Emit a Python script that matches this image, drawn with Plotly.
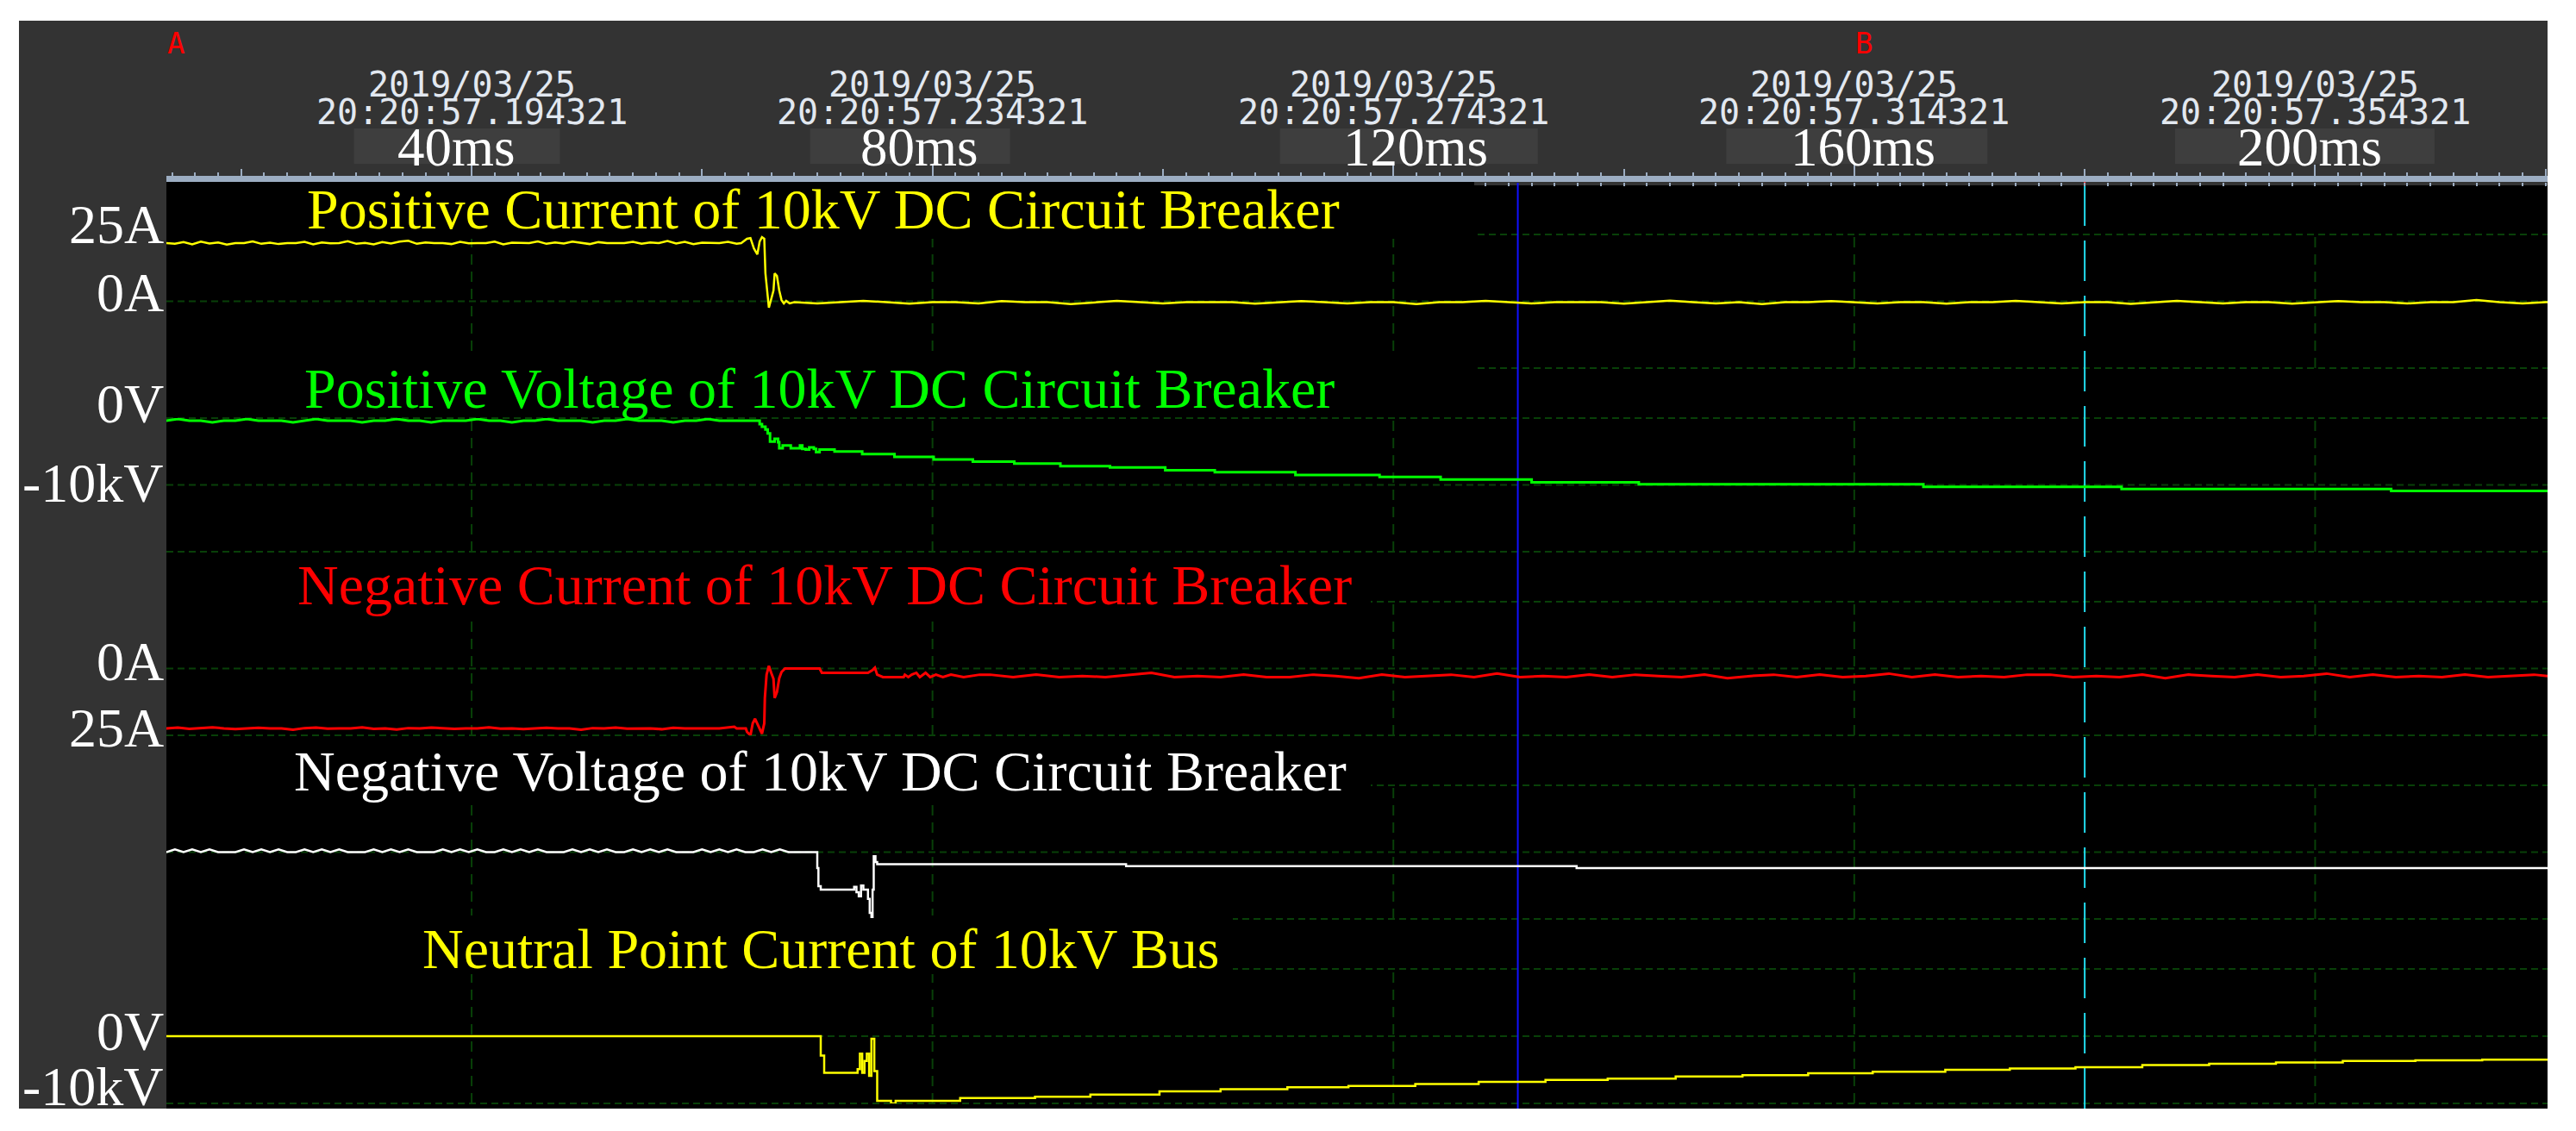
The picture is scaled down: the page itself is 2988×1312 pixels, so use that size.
import numpy as np
import plotly.graph_objects as go

# ---------------- time ruler (ms) ----------------
ruler_ticks = [40, 80, 120, 160, 200]
ruler_labels = ["40ms", "80ms", "120ms", "160ms", "200ms"]
ruler_dates = ["2019/03/25", "2019/03/25", "2019/03/25", "2019/03/25", "2019/03/25"]
ruler_times = ["20:20:57.194321", "20:20:57.234321", "20:20:57.274321",
               "20:20:57.314321", "20:20:57.354321"]
t_view = [13.51, 220.17]
cursor_blue = 130.8
cursor_cyan = 180.0
marker_a = 14.3
marker_b = 160.8

# ---------------- channel 1: positive current (A) ----------------
ch1_pre_t0, ch1_pre_dt = 13.5, 0.75
ch1_pre = [24.3, 24.0, 24.7, 23.8, 24.9, 24.1, 24.6, 23.7, 24.3, 24.3,
           25.0, 24.0, 24.5, 23.9, 24.3, 24.3, 24.8, 23.8, 24.6, 24.2,
           24.3, 25.1, 24.0, 24.4, 23.8, 24.7, 24.1, 24.9, 25.3, 24.0,
           24.6, 24.3, 24.3, 23.9, 24.8, 24.2, 24.3, 24.3, 24.9, 23.8,
           24.5, 24.3, 24.3, 25.0, 24.0, 24.6, 24.1, 24.9, 24.4, 23.9,
           24.7, 24.3, 24.3, 24.3, 24.8, 24.0, 24.6, 24.3, 25.2, 24.1,
           24.8, 23.9, 24.5, 24.3, 24.3, 24.8, 24.0, 25.4]
ch1_evt_t = [63.4, 63.9, 64.2, 64.5, 64.8, 65.0, 65.2, 65.4, 65.5, 65.7,
             65.8, 66.0, 66.2, 66.3, 66.5, 66.7, 66.9, 67.1, 67.3, 67.6]
ch1_evt_v = [24.3, 26.1, 26.4, 22.1, 19.6, 25.0, 26.8, 26.1, 11.7, 0.5,
             -2.7, 0.9, 4.5, 11.7, 10.6, 4.5, 0.5, -0.9, 0.2, -0.9]
ch1_post_t0, ch1_post_dt = 68.0, 2.0
ch1_post = [-0.4, -0.9, -0.4, 0.2, -0.4, -1.0, -0.4, -0.4, -0.9, 0.1,
            -0.4, -0.4, -1.2, -0.4, 0.2, -0.4, -0.9, -0.4, -0.4, -0.4,
            -1.0, -0.4, 0.1, -0.4, -0.9, -0.4, -0.4, -1.2, -0.4, -0.4,
            0.2, -0.4, -0.9, -0.4, -0.4, -0.4, -1.0, -0.4, 0.3, -0.4,
            -0.9, -0.4, -1.2, -0.4, -0.4, 0.1, -0.4, -0.9, -0.4, -0.4,
            -1.0, -0.4, -0.4, 0.2, -0.4, -0.9, -0.4, -0.4, -1.1, -0.4,
            0.2, -0.4, -0.9, -0.4, -0.4, -1.0, -0.4, 0.1, -0.4, -0.4,
            -0.9, -0.4, -0.4, 0.5, -0.4, -0.9, -0.4, -0.4]

# ---------------- channel 2: positive voltage (kV) ----------------
ch2_pre_t0, ch2_pre_dt = 13.5, 1.0
ch2_pre = [-0.38, -0.13, -0.38, -0.38, -0.64, -0.38, -0.38, -0.13, -0.38, -0.38,
           -0.38, -0.64, -0.38, -0.13, -0.38, -0.38, -0.38, -0.64, -0.38, -0.38,
           -0.13, -0.38, -0.38, -0.64, -0.38, -0.38, -0.38, -0.13, -0.38, -0.38,
           -0.64, -0.38, -0.38, -0.13, -0.38, -0.38, -0.38, -0.64, -0.38, -0.38,
           -0.13, -0.38, -0.38, -0.38, -0.64, -0.38, -0.38, -0.13, -0.38, -0.38,
           -0.38, -0.38]
ch2_step_t = [64.8, 65.0, 65.2, 65.5, 65.7, 65.9, 66.3, 66.6, 66.7, 67.0,
              67.7, 68.5, 68.7, 69.0, 69.3, 69.7, 69.9, 70.2, 71.5, 73.9,
              76.7, 80.1, 83.5, 87.1, 91.1, 95.4, 100.2, 104.5, 111.5, 118.8,
              124.1, 132.0, 141.3, 166.0, 183.2, 206.6, 220.2]
ch2_step_v = [-0.4, -0.9, -1.3, -1.7, -2.3, -3.5, -3.1, -3.6, -4.5, -4.1,
              -4.5, -4.1, -4.6, -4.7, -4.4, -4.6, -5.1, -4.7, -5.0, -5.4,
              -5.8, -6.2, -6.5, -6.8, -7.2, -7.4, -7.8, -8.1, -8.5, -8.8,
              -9.2, -9.6, -9.9, -10.3, -10.6, -10.9, -10.9]

# ---------------- channel 3: negative current (A) ----------------
ch3_pre_t0, ch3_pre_dt = 13.5, 1.0
ch3_pre = [-22.4, -22.1, -22.6, -22.4, -22.0, -22.4, -22.7, -22.4, -22.2, -22.4,
           -22.4, -22.9, -22.3, -22.1, -22.5, -22.4, -22.4, -22.0, -22.6, -22.4,
           -22.8, -22.3, -22.4, -22.1, -22.4, -22.6, -22.4, -22.4, -22.0, -22.5,
           -22.4, -22.7, -22.4, -22.2, -22.4, -22.4, -22.9, -22.3, -22.4, -22.1,
           -22.5, -22.4, -22.4, -22.7, -22.2, -22.4, -22.4, -22.6, -22.4]
ch3_evt_t = [62.8, 63.0, 63.8, 63.9, 64.2, 64.4, 64.6, 64.8, 65.1, 65.2,
             65.4, 65.45, 65.6, 65.8, 66.0, 66.2, 66.3, 66.5, 66.7, 66.9,
             67.2, 70.2, 70.4, 74.4, 74.8, 75.0, 75.2, 75.7, 77.5, 77.6,
             77.9, 78.2, 78.6, 78.9, 79.4, 79.8, 80.3, 80.9, 81.6, 82.7, 84.1]
ch3_evt_v = [-21.8, -22.4, -22.4, -23.7, -25.0, -20.5, -18.8, -20.8, -23.4, -24.4,
             -20.5, -11.0, -2.3, 1.0, -1.6, -3.9, -11.0, -8.8, -3.6, -1.3,
             0.0, 0.0, -1.6, -1.6, -0.6, 0.3, -2.3, -3.2, -3.2, -2.3,
             -3.2, -2.3, -1.6, -3.2, -1.6, -3.2, -2.3, -3.2, -2.3, -3.2, -2.3]
ch3_post_t0, ch3_post_dt = 85.0, 2.0
ch3_post = [-2.3, -3.2, -2.3, -3.2, -2.8, -3.2, -2.3, -1.6, -3.2, -2.8,
            -3.2, -2.3, -3.2, -3.2, -2.3, -2.8, -3.6, -2.3, -3.2, -2.8,
            -2.3, -3.2, -1.9, -3.2, -2.8, -3.2, -2.3, -3.2, -2.3, -2.8,
            -3.2, -2.3, -3.6, -2.8, -2.3, -3.2, -2.3, -3.2, -2.8, -1.9,
            -3.2, -2.3, -3.2, -2.8, -3.2, -2.3, -2.3, -3.2, -2.8, -3.2,
            -2.3, -3.6, -2.3, -2.8, -3.2, -2.3, -3.2, -2.8, -1.9, -3.2,
            -2.3, -3.2, -2.8, -3.2, -2.3, -3.2, -2.8, -2.3, -3.2, -2.3]

# ---------------- channel 4: negative voltage (kV) ----------------
ch4_pre_t0, ch4_pre_dt = 13.5, 0.75
ch4_pre = [0, 0.4, 0, 0.4, 0, 0.4, 0, 0, 0, 0.4,
           0, 0.4, 0, 0.4, 0, 0, 0.4, 0, 0.4, 0,
           0.4, 0, 0, 0, 0.4, 0, 0.4, 0, 0.4, 0,
           0, 0, 0.4, 0, 0.4, 0, 0.4, 0, 0, 0.4,
           0, 0.4, 0, 0.4, 0, 0, 0, 0.4, 0, 0.4,
           0, 0.4, 0, 0, 0.4, 0, 0.4, 0, 0.4, 0,
           0, 0, 0.4, 0, 0.4, 0, 0.4, 0, 0, 0.4,
           0, 0.4, 0, 0, 0, 0]
ch4_step_t = [70.0, 70.1, 70.3, 73.2, 73.4, 73.6, 73.8, 74.0, 74.4, 74.55,
              74.7, 74.8, 74.9, 75.05, 75.2, 96.8, 135.9, 220.2]
ch4_step_v = [-2.4, -5.1, -5.6, -5.2, -6.0, -6.6, -5.0, -5.6, -7.0, -9.1,
              -9.7, -5.6, -0.6, -1.5, -1.8, -2.1, -2.4, -2.4]

# ---------------- channel 5: neutral point current ----------------
ch5_step_t = [13.5, 70.3, 70.6, 73.5, 73.7, 73.9, 74.1, 74.3, 74.5, 74.7,
              74.95, 75.2, 76.4, 76.8, 82.4, 88.9, 93.7, 99.7, 105.0, 110.8,
              116.1, 121.9, 127.4, 133.2, 138.6, 144.5, 150.3, 156.0, 161.6, 167.9,
              173.5, 179.2, 185.0, 190.8, 196.6, 202.4, 208.7, 214.5, 220.2]
ch5_step_v = [0.0, -2.9, -5.45, -4.9, -2.6, -5.45, -3.7, -2.6, -5.9, -0.4,
              -5.2, -9.6, -10.0, -9.6, -9.2, -9.0, -8.7, -8.2, -7.9, -7.6,
              -7.4, -7.1, -6.8, -6.5, -6.3, -6.0, -5.8, -5.5, -5.3, -5.0,
              -4.8, -4.6, -4.3, -4.1, -3.9, -3.7, -3.6, -3.5, -3.4]

titles = ["Positive Current of 10kV DC Circuit Breaker",
          "Positive Voltage of 10kV DC Circuit Breaker",
          "Negative Current of 10kV DC Circuit Breaker",
          "Negative Voltage of 10kV DC Circuit Breaker",
          "Neutral Point Current of 10kV Bus"]
colors = ["#ffff00", "#00ff00", "#ff0000", "#ffffff", "#ffff00"]
y_ranges = [[-27.9, 27.9], [-20, 0], [-25, 25], [-10, 10], [-10, 10]]
# (channel, value, text, shift up in px)
level_labels = [(1, 25, "25A", 20), (1, 0, "0A", 10),
                (2, 0, "0V", 17), (2, -10, "-10kV", 2),
                (3, 0, "0A", 8), (3, -25, "25A", 9),
                (5, 0, "0V", 6), (5, -10, "-10kV", 20)]
# ms label plates: offset of centre from tick (px) and width (px)
plate_dx = [-17, -26, 18, 3, -12]
plate_w = [239, 232, 299, 303, 301]
label_dx = [-18, -15, 26, 10, -6]


def sampled(t0, dt, vals):
    t = t0 + dt * np.arange(len(vals))
    return t, np.array(vals, dtype=float)


def stairs(prev, ts, vs):
    xs, ys = [], []
    for t, v in zip(ts, vs):
        xs += [t, t]
        ys += [prev, v]
        prev = v
    return xs, ys


# assemble channels
t1a, v1a = sampled(ch1_pre_t0, ch1_pre_dt, ch1_pre)
t1c, v1c = sampled(ch1_post_t0, ch1_post_dt, ch1_post)
k1, k1c = t1a < ch1_evt_t[0], t1c > ch1_evt_t[-1]
ch1_x = list(t1a[k1]) + ch1_evt_t + list(t1c[k1c])
ch1_y = list(v1a[k1]) + ch1_evt_v + list(v1c[k1c])

t2a, v2a = sampled(ch2_pre_t0, ch2_pre_dt, ch2_pre)
k2 = t2a < ch2_step_t[0]
sx, sy = stairs(v2a[k2][-1], ch2_step_t, ch2_step_v)
ch2_x = list(t2a[k2]) + sx
ch2_y = list(v2a[k2]) + sy

t3a, v3a = sampled(ch3_pre_t0, ch3_pre_dt, ch3_pre)
t3c, v3c = sampled(ch3_post_t0, ch3_post_dt, ch3_post)
k3, k3c = t3a < ch3_evt_t[0], t3c > ch3_evt_t[-1]
ch3_x = list(t3a[k3]) + ch3_evt_t + list(t3c[k3c])
ch3_y = list(v3a[k3]) + ch3_evt_v + list(v3c[k3c])

t4a, v4a = sampled(ch4_pre_t0, ch4_pre_dt, ch4_pre)
k4 = t4a < ch4_step_t[0]
sx, sy = stairs(v4a[k4][-1], ch4_step_t, ch4_step_v)
ch4_x = list(t4a[k4]) + sx
ch4_y = list(v4a[k4]) + sy

ch5_x, ch5_y = stairs(ch5_step_v[0], ch5_step_t, ch5_step_v)

series = [(ch1_x, ch1_y), (ch2_x, ch2_y), (ch3_x, ch3_y), (ch4_x, ch4_y), (ch5_x, ch5_y)]
widths = [2.5, 3, 3, 2.5, 2.5]

# ---------------- page geometry (page pixels; body has an 8px margin) ----------------
OFF = 8
W, H = 2988 - 2 * OFF, 1312 - 2 * OFF
ML, MT = 22 - OFF, 23 - OFF
MR, MB = (OFF + W) - 2955, (OFF + H) - 1286
PW, PH = W - ML - MR, H - MT - MB


def px(x):
    return (x - 22) / PW


def py(y):
    return (1286 - y) / PH


def ms_per_px():
    return (t_view[1] - t_view[0]) / (2955 - 193)


X0 = px(193)
bands = [(272, 427), (485, 640), (698, 853), (911, 1066), (1124, 1280)]
SERIF = "Times New Roman, Liberation Serif, serif"
MONO = "DejaVu Sans Mono, monospace"
RULER = "#9cadc2"
GRID = "#084008"

fig = go.Figure()
for i, (xs, ys) in enumerate(series):
    k = "" if i == 0 else str(i + 1)
    fig.add_trace(go.Scatter(x=xs, y=ys, xaxis="x" + k, yaxis="y" + k, mode="lines",
                             line=dict(color=colors[i], width=widths[i]),
                             hoverinfo="skip", showlegend=False))

layout = dict(width=W, height=H, margin=dict(l=ML, r=MR, t=MT, b=MB),
              paper_bgcolor="white", plot_bgcolor="rgba(0,0,0,0)", showlegend=False)

for i in range(5):
    k = "" if i == 0 else str(i + 1)
    top, bot = bands[i]
    layout["yaxis" + k] = dict(domain=[py(bot), py(top)], range=y_ranges[i], visible=False,
                               anchor="x" + k, fixedrange=True)
    ax = dict(domain=[X0, 1], range=t_view, showgrid=False, zeroline=False,
              showline=False, fixedrange=True)
    if i == 0:
        ax.update(anchor="free", position=py(204), side="top", tickmode="linear", tick0=0,
                  dtick=20, ticks="outside", ticklen=8, tickwidth=2, tickcolor=RULER,
                  showticklabels=False,
                  minor=dict(ticks="outside", tick0=0, dtick=2, ticklen=4, tickwidth=2,
                             tickcolor=RULER))
    elif i == 1:
        ax.update(anchor="free", position=py(204), side="top", tickmode="array",
                  tickvals=ruler_ticks, ticks="outside", ticklen=13,
                  tickwidth=2, tickcolor=RULER, showticklabels=False)
    elif i == 2:
        ax.update(anchor="free", position=py(211), side="top", tickmode="array",
                  tickvals=list(range(128, 221, 2)), ticks="inside", ticklen=4,
                  tickwidth=2, tickcolor=RULER, showticklabels=False)
    else:
        ax.update(anchor="y" + k, visible=False)
    layout["xaxis" + k] = ax

shapes = []
# dark frame, black screen, ruler bar
shapes.append(dict(type="rect", xref="paper", yref="paper", x0=0, x1=1, y0=0, y1=py(24),
                   fillcolor="#333333", line=dict(width=0), layer="below"))
shapes.append(dict(type="rect", xref="paper", yref="paper", x0=X0, x1=1, y0=0, y1=py(211),
                   fillcolor="black", line=dict(width=0), layer="below"))
shapes.append(dict(type="rect", xref="paper", yref="paper", x0=X0, x1=1, y0=py(211), y1=py(204),
                   fillcolor=RULER, line=dict(width=0), layer="below"))
shapes.append(dict(type="rect", xref="paper", yref="paper", x0=px(1710), x1=1, y0=py(215),
                   y1=py(211), fillcolor="#333333", line=dict(width=0), layer="below"))
# label plates behind the ms labels
mpp = ms_per_px()
for tv, dx, w in zip(ruler_ticks, plate_dx, plate_w):
    c = tv + dx * mpp
    shapes.append(dict(type="rect", xref="x", yref="paper", x0=c - w / 2 * mpp,
                       x1=c + w / 2 * mpp, y0=py(190), y1=py(149), fillcolor="#3e3e3e",
                       line=dict(width=0), layer="below"))
# channel grids
for i in range(5):
    k = "" if i == 0 else str(i + 1)
    top, bot = bands[i]
    for f in (0, 0.5, 1):
        shapes.append(dict(type="line", xref="paper", yref="y" + k + " domain", x0=X0, x1=1,
                           y0=f, y1=f, line=dict(color=GRID, width=2, dash="8px,5px"),
                           layer="below"))
    for tv in ruler_ticks:
        shapes.append(dict(type="line", xref="x", yref="paper", x0=tv, x1=tv, y0=py(bot),
                           y1=py(top), line=dict(color=GRID, width=2, dash="12px,8px"),
                           layer="below"))
# black plates behind the channel titles
for x1p, y0p, y1p in [(1710, 211, 277), (1710, 410, 482), (1590, 644, 713),
                      (1590, 857, 930), (1430, 1062, 1130)]:
    shapes.append(dict(type="rect", xref="paper", yref="paper", x0=X0, x1=px(x1p),
                       y0=py(y1p), y1=py(y0p), fillcolor="black", line=dict(width=0),
                       layer="below"))
# cursors
shapes.append(dict(type="line", xref="x", yref="paper", x0=cursor_blue, x1=cursor_blue,
                   y0=0, y1=py(212), line=dict(color="#1010ff", width=2), layer="below"))
shapes.append(dict(type="line", xref="x", yref="paper", x0=cursor_cyan, x1=cursor_cyan,
                   y0=0, y1=py(213), line=dict(color="#22dcee", width=2, dash="47px,17px"),
                   layer="below"))
shapes.append(dict(type="line", xref="x", yref="paper", x0=cursor_cyan, x1=cursor_cyan,
                   y0=py(215), y1=py(211), line=dict(color="#ff3030", width=2), layer="below"))
layout["shapes"] = shapes

ann = []
for tv, d, tm in zip(ruler_ticks, ruler_dates, ruler_times):
    for txt, yp in ((d, 98), (tm, 130)):
        ann.append(dict(text=txt, xref="x", yref="paper", x=tv, y=py(yp), xanchor="center",
                        yanchor="middle", showarrow=False,
                        font=dict(family=MONO, size=40, color="#e2e8f0")))
for tv, lab, dx in zip(ruler_ticks, ruler_labels, label_dx):
    ann.append(dict(text=lab, xref="x", yref="paper", x=tv, y=py(171), xanchor="center",
                    yanchor="middle", xshift=dx, showarrow=False,
                    font=dict(family=SERIF, size=63, color="white")))
for tv, lab in ((marker_a, "A"), (marker_b, "B")):
    ann.append(dict(text=lab, xref="x", yref="paper", x=tv, y=py(50), xanchor="center",
                    yanchor="middle", showarrow=False,
                    font=dict(family=MONO, size=34, color="#ff0000")))
title_pos = [(354, 242), (351, 450), (343, 678), (339, 894), (488, 1100)]
for txt, c, (xp, yp) in zip(titles, colors, title_pos):
    ann.append(dict(text=txt, xref="paper", yref="paper", x=px(xp), y=py(yp), xanchor="left",
                    yanchor="middle", showarrow=False,
                    font=dict(family=SERIF, size=66, color=c)))
for ch, val, txt, up in level_labels:
    k = "" if ch == 1 else str(ch)
    ann.append(dict(text=txt, xref="paper", yref="y" + k, x=px(193), y=val, xanchor="right",
                    yanchor="middle", yshift=up, xshift=-1, showarrow=False,
                    font=dict(family=SERIF, size=64, color="white")))
layout["annotations"] = ann

fig.update_layout(**layout)
fig.write_html("out.html", config={"displayModeBar": False})
